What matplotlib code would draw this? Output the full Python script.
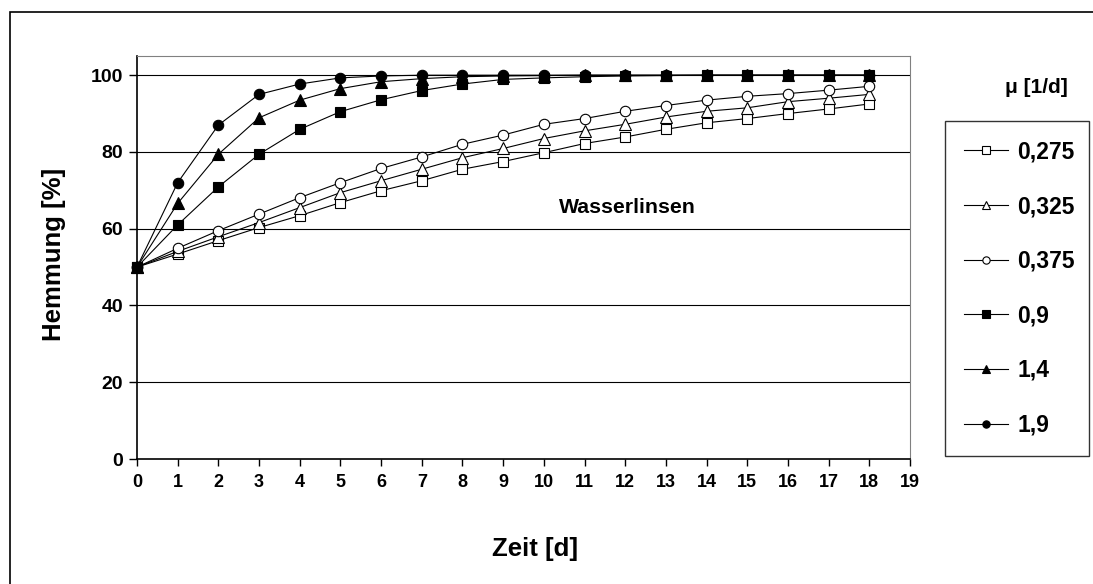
import numpy as np
import matplotlib
matplotlib.use('Agg')
import matplotlib.pyplot as plt
from matplotlib.patches import Rectangle

plt.rcParams['font.family'] = ['Liberation Sans', 'DejaVu Sans']
plt.rcParams['font.weight'] = 'bold'

# Zeit [d]
zeit = list(range(0, 19))

# Hemmung [%] for each growth rate mu [1/d]
h_0275 = [50, 53.4, 56.9, 60.3, 63.4, 66.8, 69.9, 72.5, 75.5, 77.5, 79.8, 82.2, 83.9, 85.9, 87.6, 88.7, 90.0, 91.2, 92.5]
h_0325 = [50, 54.1, 57.9, 61.6, 65.5, 69.4, 72.5, 75.5, 78.5, 80.9, 83.5, 85.5, 87.2, 89.1, 90.6, 91.5, 93.1, 94.0, 95.0]
h_0375 = [50, 54.9, 59.5, 63.8, 68.1, 72.0, 75.7, 78.7, 82.0, 84.4, 87.2, 88.7, 90.6, 92.1, 93.5, 94.5, 95.2, 96.1, 97.1]
h_09   = [50, 61.0, 70.9, 79.4, 85.9, 90.5, 93.6, 96.0, 97.7, 98.9, 99.3, 99.6, 99.8, 99.9, 100, 100, 100, 100, 100]
h_14   = [50, 66.6, 79.4, 88.9, 93.5, 96.5, 98.3, 99.1, 99.6, 99.8, 99.9, 100, 100, 100, 100, 100, 100, 100, 100]
h_19   = [50, 72.0, 87.0, 95.0, 97.7, 99.3, 99.8, 100, 100, 100, 100, 100, 100, 100, 100, 100, 100, 100, 100]

labels = ['0,275', '0,325', '0,375', '0,9', '1,4', '1,9']
series = [h_0275, h_0325, h_0375, h_09, h_14, h_19]
markers = ['s', '^', 'o', 's', '^', 'o']
faces = ['white', 'white', 'white', 'black', 'black', 'black']
ytick_vals = [0, 20, 40, 60, 80, 100]

W, H = 1093, 584
fig = plt.figure(figsize=(W / 100, H / 100), dpi=100)
ax = fig.add_axes([137 / W, 1 - 459 / H, (910 - 137) / W, (459 - 56) / H])

# outer chart frame (right/bottom edges lie outside the picture)
fig.patches.append(Rectangle((10 / W, -0.1), 1.2, 1.1 - 12 / H, transform=fig.transFigure,
                             fill=False, edgecolor='black', linewidth=1.2))

for y in ytick_vals[1:]:
    ax.axhline(y, color='black', linewidth=0.8, zorder=1)

for vals, lab, m, fc in zip(series, labels, markers, faces):
    ms = 8.5 if m == '^' else 7.5
    ax.plot(zeit, vals, color='black', linewidth=0.8, marker=m, markersize=ms,
            markerfacecolor=fc, markeredgecolor='black', markeredgewidth=0.8,
            label=lab, zorder=3, clip_on=False)

ax.set_xlim(0, 19)
ax.set_ylim(0, 105)
ax.set_xticks(range(0, 20))
ax.set_yticks(ytick_vals)
ax.tick_params(axis='x', direction='out', length=5, width=1, labelsize=13, pad=6)
ax.tick_params(axis='y', direction='out', length=6, width=1, labelsize=14, pad=4)
for lbl in ax.get_xticklabels() + ax.get_yticklabels():
    lbl.set_fontweight('bold')

ax.spines['top'].set_color('#808080')
ax.spines['right'].set_color('#808080')
ax.spines['left'].set_linewidth(1.2)
ax.spines['bottom'].set_linewidth(1.2)

ax.text(12.05, 65.5, 'Wasserlinsen', ha='center', va='center', fontsize=15.3, fontweight='bold')

fig.text(54 / W, 1 - 254 / H, 'Hemmung [%]', rotation=90, ha='center', va='center',
         fontsize=18.5, fontweight='bold')
fig.text(535 / W, 1 - 549 / H, 'Zeit [d]', ha='center', va='center', fontsize=18.5, fontweight='bold')
fig.text(1036 / W, 1 - 88 / H, 'μ [1/d]', ha='center', va='center', fontsize=15, fontweight='bold')

leg = fig.legend(loc='upper left', bbox_to_anchor=(945 / W, 1 - 461 / H, 144 / W, 340 / H),
                 mode='expand', borderaxespad=0, frameon=True, fancybox=False,
                 handlelength=1.9, handletextpad=0.4, labelspacing=1.38, borderpad=0.85,
                 markerscale=0.7, prop={'size': 16.5, 'weight': 'bold'})
leg.get_frame().set_edgecolor('black')
leg.get_frame().set_linewidth(1.0)

fig.savefig('out.png', dpi=100)
